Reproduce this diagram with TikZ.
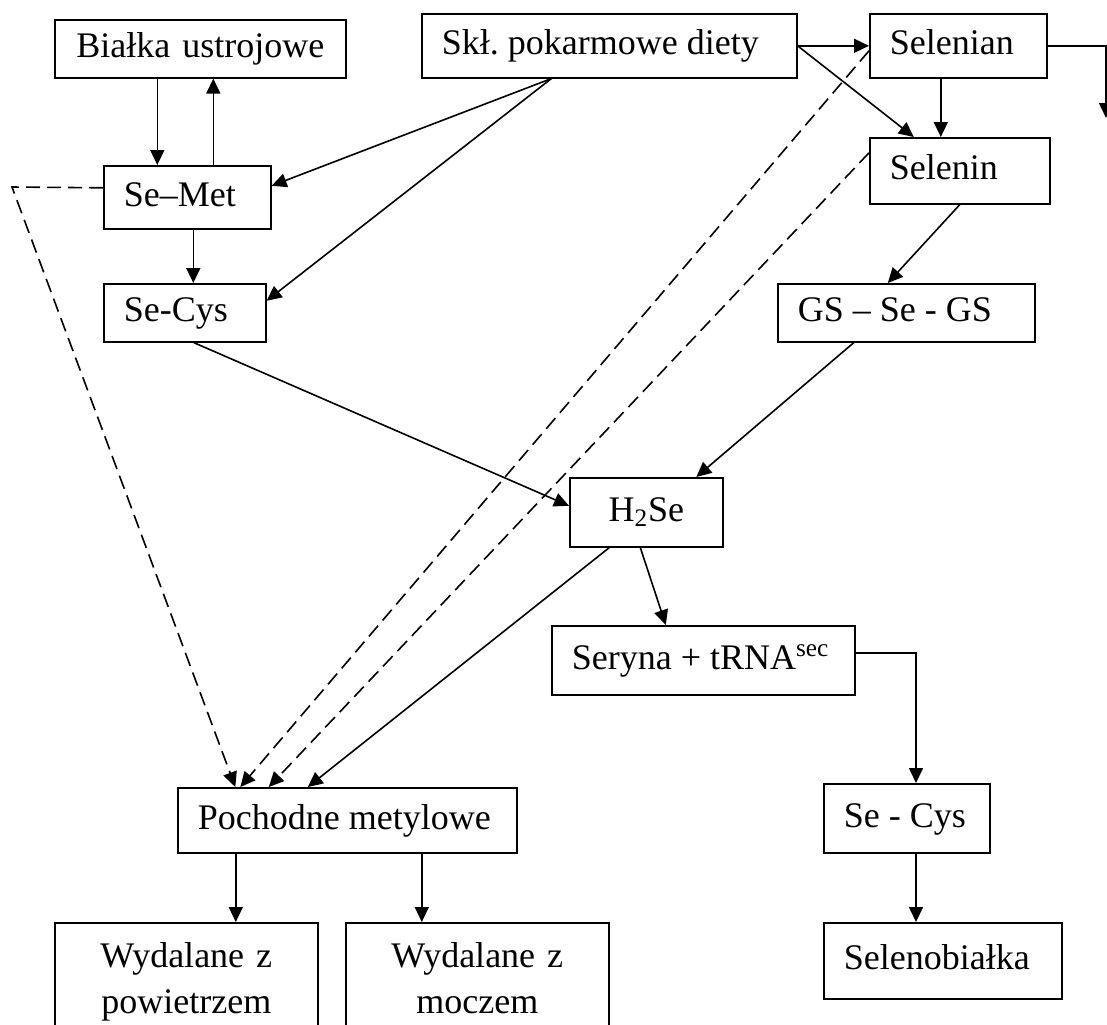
\documentclass[tikz,border=0pt]{standalone}
\usepackage{fontspec}
\setmainfont{Liberation Serif}
\usepackage{tikz}
\usetikzlibrary{arrows.meta,positioning}

\tikzset{
  ramka/.style={draw, line width=0.8pt, anchor=north west, font=\fontsize{18}{23}\selectfont},
  blok/.style={ramka, inner xsep=10pt, inner ysep=0pt, align=flush left, text height=13pt, text depth=4pt,
    execute at begin node={\exhyphenpenalty=10000\hyphenpenalty=10000}},
  blokc/.style={blok, inner xsep=2pt, align=center},
  blokw/.style={ramka, inner xsep=2pt, inner ysep=10pt, align=center, text width=127.5pt},
  strz/.style={-{Triangle[length=7.5pt,width=7pt]}, line width=0.8pt},
  przer/.style={strz, dash pattern=on 7pt off 3.5pt},
}

\begin{document}
\begin{tikzpicture}[x=0.5pt, y=-0.5pt]
    \useasboundingbox (0,0) rectangle (1107,1024);
    \clip (0,0) rectangle (1107,1024);

    % Top row
    \node[blokc, text width=141.5pt, minimum height=29pt] (bialka) at (54,19) {Białka ustrojowe};
    \node[blok, text width=167.5pt, minimum height=32pt] (sklad) at (421,13) {Skł.~pokarmowe~diety};
    \node[blok, text width=68.5pt, minimum height=32pt] (selenian) at (869,13) {Selenian};

    % Left column
    \node[blok, text width=63.5pt, minimum height=31.5pt] (semet) at (103,165) {Se–Met};
    \node[blok, text width=61pt, minimum height=29pt] (secys) at (103,283) {Se-Cys};

    % Right column
    \node[blok, text width=70pt, minimum height=33pt] (selenin) at (869,137) {Selenin};
    \node[blok, text width=108.5pt, minimum height=29pt] (gsse) at (777,283) {GS~–~Se~-~GS};

    % Middle
    \node[blokc, text width=72.5pt, minimum height=34.5pt] (h2se) at (569,477) {H\textsubscript{2}Se};
    \node[blok, text width=131.5pt, minimum height=34.5pt] (seryna) at (551,625) {Seryna~+~tRNA\textsuperscript{sec}};

    % Bottom
    \node[blok, text width=149.5pt, minimum height=32.5pt] (pochodne) at (177,787) {Pochodne~metylowe};
    \node[blokw] (wyd1) at (54,922) {Wydalane z\\powietrzem};
    \node[blokw] (wyd2) at (345,922) {Wydalane z\\moczem};
    \node[blok, text width=63pt, minimum height=34.5pt] (secys2) at (823,783) {Se~-~Cys};
    \node[blok, text width=99pt, minimum height=38pt] (selenob) at (823,922) {Selenobiałka};

    % Edges - left part
    \draw[strz] ([xshift=-15pt]semet.north |- bialka.south) -- ([xshift=-15pt]semet.north);
    \draw[strz] ([xshift=13pt]semet.north) -- ([xshift=13pt]semet.north |- bialka.south);
    \draw[strz] ([xshift=3pt]semet.south) -- ([xshift=3pt]semet.south |- secys.north);
    \draw[strz] ([xshift=-29pt]sklad.south) -- ([yshift=5.75pt]semet.east);
    \draw[strz] ([xshift=-29pt]sklad.south) -- ([yshift=6pt]secys.east);

    % Edges - right part
    \draw[strz] (sklad.east) -- (selenian.west);
    \draw[strz] (sklad.east) -- ([xshift=-23pt]selenin.north);
    \draw[strz] ([xshift=-8.75pt]selenian.south) -- ([xshift=-8.75pt]selenian.south |- selenin.north);
    \coordinate (wyjscie) at (1106,118);
    \draw[strz] (selenian.east) -| (wyjscie);
    \draw[strz] (selenin.south) -- ([xshift=-9.25pt]gsse.north);

    % Edges - H2Se
    \draw[strz] ([xshift=4.5pt]secys.south) -- ([yshift=3.25pt]h2se.west);
    \draw[strz] ([xshift=-26.25pt]gsse.south) -- ([xshift=25pt]h2se.north);
    \draw[strz] ([xshift=-3pt]h2se.south) -- ([xshift=-18.75pt]seryna.north);
    \draw[strz] ([xshift=-18.5pt]h2se.south) -- ([xshift=-19.75pt]pochodne.north);

    % Dashed edges
    \coordinate (zalom) at (12,187);
    \draw[przer] ([yshift=4.75pt]semet.west) -- (zalom) -- ([xshift=-56pt]pochodne.north);
    \draw[przer] ([yshift=-2.5pt]selenian.west) -- ([xshift=-53.5pt]pochodne.north);
    \draw[przer] ([yshift=9pt]selenin.west) -- ([xshift=-39.25pt]pochodne.north);

    % Edges - bottom
    \draw[strz] ([xshift=24.75pt]wyd1.north |- pochodne.south) -- ([xshift=24.75pt]wyd1.north);
    \draw[strz] ([xshift=-27.75pt]wyd2.north |- pochodne.south) -- ([xshift=-27.75pt]wyd2.north);
    \draw[strz] ([yshift=3.75pt]seryna.east) -| ([xshift=4.6pt]secys2.north);
    \draw[strz] ([xshift=4.6pt]secys2.south) -- ([xshift=4.6pt]secys2.south |- selenob.north);
\end{tikzpicture}
\end{document}
